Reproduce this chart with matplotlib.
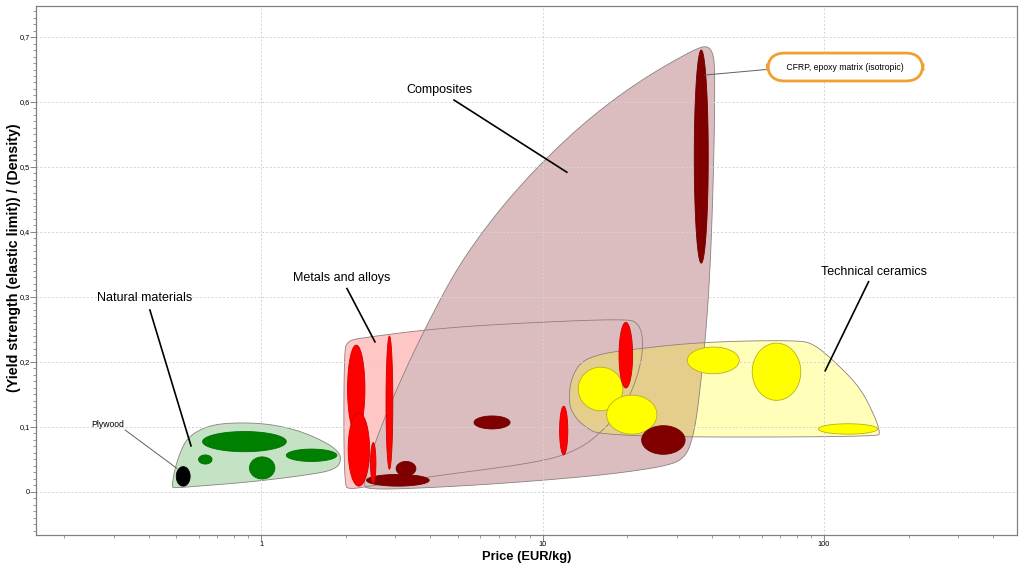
import numpy as np
import matplotlib
matplotlib.use("Agg")
from matplotlib import pyplot as plt
from matplotlib.ticker import MultipleLocator, FuncFormatter, LogLocator, NullFormatter

plt.rcParams['font.family'] = ['Liberation Sans', 'DejaVu Sans']

# bubbles: price range (EUR/kg) and strength/density range for each material
nat_price_lo = [0.62, 1.23, 0.60, 0.91]
nat_price_hi = [1.23, 1.86, 0.67, 1.12]
nat_str_lo = [0.062, 0.047, 0.043, 0.020]
nat_str_hi = [0.093, 0.066, 0.057, 0.054]

plywood_price = [0.50, 0.56]
plywood_str = [0.009, 0.039]

metal_price_lo = [2.03, 2.04, 2.78, 2.45, 11.5, 18.7]
metal_price_hi = [2.34, 2.43, 2.94, 2.56, 12.3, 20.9]
metal_str_lo = [0.091, 0.009, 0.035, 0.013, 0.057, 0.160]
metal_str_hi = [0.226, 0.122, 0.240, 0.076, 0.132, 0.261]

comp_price_lo = [3.02, 2.37, 5.71, 22.5, 34.6]
comp_price_hi = [3.55, 3.96, 7.67, 32.1, 38.8]
comp_str_lo = [0.025, 0.009, 0.097, 0.058, 0.352]
comp_str_hi = [0.047, 0.027, 0.117, 0.102, 0.680]

cer_price_lo = [13.4, 16.9, 32.7, 55.6, 95.5]
cer_price_hi = [19.3, 25.5, 50.0, 82.7, 155.0]
cer_str_lo = [0.125, 0.089, 0.182, 0.141, 0.089]
cer_str_hi = [0.192, 0.149, 0.223, 0.229, 0.105]

# family envelopes, outline (price, strength)
nat_env_price = [0.483, 0.491, 0.516, 0.550, 0.633, 0.745, 0.992, 1.268, 1.555,
                 1.832, 1.940, 1.847, 1.376, 0.914, 0.607, 0.491]
nat_env_str = [0.0077, 0.0308, 0.0615, 0.0846, 0.100, 0.1062, 0.1062, 0.0985, 0.0846,
               0.0677, 0.0523, 0.0338, 0.0246, 0.0154, 0.0092, 0.0062]

metal_env_price = [1.97, 1.97, 2.04, 2.25, 4.32, 9.80, 20.1, 21.8, 22.8, 22.4,
                   20.1, 16.5, 13.6, 10.0, 3.89, 2.34, 2.07]
metal_env_str = [0.0092, 0.2185, 0.2323, 0.2369, 0.2523, 0.2615, 0.2662, 0.260, 0.2385,
                 0.1954, 0.1385, 0.0954, 0.0662, 0.0462, 0.0231, 0.0077, 0.0046]

comp_env_price = [2.30, 2.40, 2.60, 2.92, 3.38, 4.05, 4.89, 6.00, 7.67, 10.0, 13.4,
                  17.8, 23.1, 29.6, 35.7, 38.4, 40.3, 41.0, 40.7, 39.7, 38.4, 36.9,
                  35.4, 34.0, 32.3, 28.8, 18.9, 11.5, 6.00, 3.12, 2.44]
comp_env_str = [0.0092, 0.0415, 0.0877, 0.1415, 0.2031, 0.2723, 0.3385, 0.3954, 0.4538,
                0.5077, 0.560, 0.6031, 0.6369, 0.6646, 0.6831, 0.6862, 0.6769, 0.6492,
                0.5262, 0.3723, 0.2646, 0.1877, 0.1185, 0.080, 0.0554, 0.0415, 0.0292,
                0.020, 0.0108, 0.0046, 0.0046]

cer_env_price = [12.4, 12.6, 13.6, 16.0, 20.0, 36.3, 82.2, 92.9, 107.6, 134.3,
                 151.8, 158.1, 155.5, 16.4, 13.8, 12.7]
cer_env_str = [0.1415, 0.1723, 0.200, 0.2123, 0.2185, 0.2308, 0.2338, 0.2262, 0.2031,
               0.1615, 0.1154, 0.0923, 0.0846, 0.0846, 0.1031, 0.1231]


def smooth(xs, ys, n=3):
    "rounds the corners of a closed outline (chaikin), in log-x space"
    pts = np.column_stack([np.log10(xs), ys])
    for _ in range(n):
        nxt = np.roll(pts, -1, axis=0)
        new = np.empty((2 * len(pts), 2))
        new[0::2] = 0.75 * pts + 0.25 * nxt
        new[1::2] = 0.25 * pts + 0.75 * nxt
        pts = new
    return 10 ** pts[:, 0], pts[:, 1]


def bubble(ax, plo, phi, slo, shi, face, edge, z=3):
    "ellipse spanning the price range (log) and the property range"
    t = np.linspace(0, 2 * np.pi, 120)
    lc = (np.log10(plo) + np.log10(phi)) / 2
    lr = (np.log10(phi) - np.log10(plo)) / 2
    yc = (slo + shi) / 2
    yr = (shi - slo) / 2
    ax.fill(10 ** (lc + lr * np.cos(t)), yc + yr * np.sin(t), facecolor=face,
            edgecolor=edge, linewidth=0.6, zorder=z)


fig = plt.figure(figsize=(10.24, 5.71), dpi=100)
ax = fig.add_axes([0.0352, 0.063, 0.958, 0.9265])
ax.set_xscale('log')
ax.set_xlim(0.1588, 485)
ax.set_ylim(-0.0662, 0.7477)

# envelopes
envs = [(nat_env_price, nat_env_str, '#c4e2c4', 1.0, 1.0),
        (metal_env_price, metal_env_str, '#ffc6c6', 1.0, 1.01),
        (comp_env_price, comp_env_str, '#dcbdbf', 1.0, 1.02),
        (cer_env_price, cer_env_str, '#ffff00', 0.27, 1.03)]
for px, py, col, a, z in envs:
    sx, sy = smooth(px, py)
    ax.fill(sx, sy, facecolor=col, alpha=a, edgecolor='none', zorder=z)
for px, py, col, a, z in envs:
    sx, sy = smooth(px, py)
    ax.fill(sx, sy, facecolor='none', edgecolor='#8c8080', linewidth=0.6, zorder=1.2)

# bubbles
for i in range(len(cer_price_lo)):
    bubble(ax, cer_price_lo[i], cer_price_hi[i], cer_str_lo[i], cer_str_hi[i], '#ffff00', '#b8b020')
for i in range(len(comp_price_lo)):
    bubble(ax, comp_price_lo[i], comp_price_hi[i], comp_str_lo[i], comp_str_hi[i], '#800000', '#700000')
for i in range(len(metal_price_lo)):
    bubble(ax, metal_price_lo[i], metal_price_hi[i], metal_str_lo[i], metal_str_hi[i], '#ff0000', '#d00000')
for i in range(len(nat_price_lo)):
    bubble(ax, nat_price_lo[i], nat_price_hi[i], nat_str_lo[i], nat_str_hi[i], '#008000', '#007000')
bubble(ax, plywood_price[0], plywood_price[1], plywood_str[0], plywood_str[1], '#000000', '#000000')

# labels
lab = dict(fontsize=9, ha='center', va='center', zorder=6)
ax.text(0.387, 0.2985, 'Natural materials', **lab)
ax.plot([0.403, 0.564], [0.280, 0.071], color='black', lw=1.2, zorder=5)
ax.text(1.94, 0.3292, 'Metals and alloys', **lab)
ax.plot([2.02, 2.54], [0.313, 0.231], color='black', lw=1.2, zorder=5)
ax.text(4.32, 0.6185, 'Composites', **lab)
ax.plot([4.85, 12.2], [0.603, 0.492], color='black', lw=1.2, zorder=5)
ax.text(150, 0.3385, 'Technical ceramics', **lab)
ax.plot([144, 101], [0.3235, 0.1866], color='black', lw=1.2, zorder=5)

ax.text(0.286, 0.1031, 'Plywood', fontsize=6.2, ha='center', va='center', zorder=6)
ax.plot([0.329, 0.502], [0.0954, 0.0365], color='#606060', lw=0.7, zorder=5)

ax.plot([37.8, 71.5], [0.6415, 0.6523], color='#606060', lw=0.7, zorder=5)
ax.text(119, 0.6538, '    CFRP, epoxy matrix (isotropic)    ', fontsize=6.2, ha='center',
        va='center', zorder=6,
        bbox=dict(boxstyle='round,pad=1.1,rounding_size=2.0', facecolor='white',
                  edgecolor='#f0a030', linewidth=2))

# axes styling
ax.set_axisbelow('line')
ax.grid(True, which='major', color='#d4d4d4', linestyle=(0, (2, 2)), linewidth=0.7)
ax.yaxis.set_major_locator(MultipleLocator(0.1))
ax.yaxis.set_minor_locator(MultipleLocator(0.01))
ax.yaxis.set_major_formatter(FuncFormatter(lambda v, p: ('%g' % round(v, 1)).replace('.', ',')))
ax.xaxis.set_major_locator(LogLocator(base=10))
ax.xaxis.set_minor_locator(LogLocator(base=10, subs=np.arange(2, 10)))
ax.xaxis.set_minor_formatter(NullFormatter())
ax.xaxis.set_major_formatter(FuncFormatter(lambda v, p: '%g' % v))
ax.tick_params(which='major', length=4, width=0.6, color='#707070', labelsize=5.3, pad=0.5)
ax.tick_params(which='minor', length=2, width=0.5, color='#707070')
for s in ax.spines.values():
    s.set_color('#808080')
    s.set_linewidth(0.9)

ax.set_xlabel('Price (EUR/kg)', fontsize=9.3, fontweight='bold', labelpad=2)
ax.set_ylabel('(Yield strength (elastic limit)) / (Density)', fontsize=10.3, fontweight='bold')
ax.yaxis.set_label_coords(-0.0155, 0.525)

fig.savefig('out.png', dpi=100)
